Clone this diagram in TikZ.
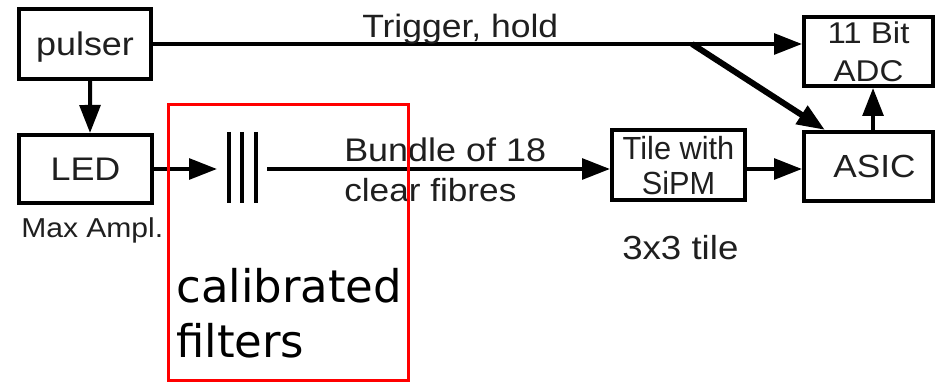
\documentclass[tikz,border=0pt]{standalone}
\usepackage{fontspec}
\setmainfont{Liberation Sans}[FakeStretch=1.1]
\newfontfamily\tilefont{Liberation Sans}[FakeStretch=0.96]
\newfontfamily\calfont{DejaVu Sans}
\usetikzlibrary{arrows.meta}
\definecolor{txt}{gray}{0.12}
\begin{document}
\begin{tikzpicture}[x=0.75pt,y=-0.75pt,
  box/.style={draw=black, line width=3pt, inner sep=0pt, text depth=0pt, align=center, text=txt},
  arr/.style={line width=3pt, -{Triangle[length=21pt,width=15.5pt]}},
  lbl/.style={inner sep=0pt, anchor=base west, text=txt},
]
\useasboundingbox (0,0) rectangle (938,384);
\fill[white] (0,0) rectangle (938,384);

% boxes
\node[box, minimum width=99pt, minimum height=52.5pt, font=\fontsize{24.5pt}{29pt}\selectfont] (pulser) at (85,44) {pulser};
\node[box, minimum width=99.75pt, minimum height=51pt, font=\fontsize{24.5pt}{29pt}\selectfont] (LED) at (85.5,169) {LED};
\node[box, minimum width=99.75pt, minimum height=52.5pt, font=\tilefont\fontsize{24pt}{26.25pt}\selectfont] (Tile) at (678.5,165) {Tile with\\SiPM};
\node[box, minimum width=96.75pt, minimum height=51.75pt, font=\fontsize{24pt}{29pt}\selectfont] (ASIC) at (868.5,166.5) {\hspace*{9pt}ASIC};
\node[box, minimum width=96.75pt, minimum height=51.75pt, font=\fontsize{22.5pt}{28.5pt}\selectfont] (ADC) at (868.5,51.5) {11 Bit\\ADC};

% filter stack
\node[inner sep=0pt, outer sep=0pt, minimum width=37.5pt, minimum height=53.25pt] (filt) at (242,167.5) {};
\draw[line width=3.5pt] (229,132) -- (229,203);
\draw[line width=2.4pt] (242,132) -- (242,203);
\draw[line width=3pt] (256,132) -- (256,203);

% connectors
\draw[arr] ([xshift=3.75pt]pulser.south) -- ([xshift=3.4pt]LED.north);
\draw[arr] (LED.east) -- (LED.east -| filt.west);
\draw[arr] (filt.east |- LED.east) -- (Tile.west |- LED.east);
\draw[arr] (Tile.east |- LED.east) -- (ASIC.west |- LED.east);
\draw[arr] (pulser.east) -- (ADC.west |- pulser.east);
\coordinate (split) at (692,44);
\draw[arr, line width=4.5pt] (split) -- ([xshift=-32.6pt]ASIC.north);
\draw[arr] ([xshift=3.4pt]ASIC.north) -- ([xshift=3.4pt]ADC.south);

% labels
\node[lbl, font=\fontsize{24.2pt}{29pt}\selectfont] (trig) at (362,38) {Trigger, hold};
\node[lbl, font=\fontsize{24.5pt}{29pt}\selectfont] (bundle) at (344,162) {Bundle of 18};
\node[lbl, font=\fontsize{24pt}{29pt}\selectfont] (clear) at (344,202) {clear fibres};
\node[lbl, font=\fontsize{20.5pt}{25pt}\selectfont] (maxampl) at (21,238) {Max Ampl.};
\node[lbl, font=\fontsize{25pt}{30pt}\selectfont] (tile3) at (622,260) {3x3 tile};

% highlight
\draw[red, line width=2.25pt] (168.5,104.5) rectangle (408.5,380.5);
\node[lbl, text=black, font=\calfont\fontsize{33.75pt}{41pt}\selectfont] (cal1) at (176,303) {calibrated};
\node[lbl, text=black, font=\calfont\fontsize{33.75pt}{41pt}\selectfont] (cal2) at (176,358) {filters};
\end{tikzpicture}
\end{document}
